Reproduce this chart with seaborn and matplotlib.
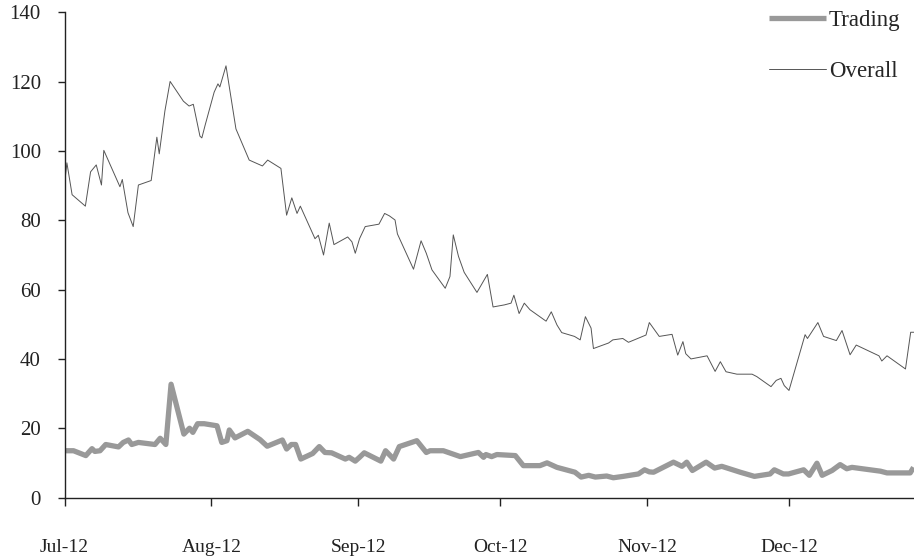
import pandas as pd
import seaborn as sns
import matplotlib.dates as mdates

from matplotlib import pyplot as plt

# days since 1 Jul 2012
overall_day = [0.0, 0.5, 1.6, 4.4, 5.5, 6.7, 7.8, 8.3, 11.7, 12.2, 13.4, 14.5, 15.6, 18.3,
               19.5, 20.0, 21.2, 22.3, 25.1, 26.3, 27.2, 28.6, 29.0, 29.7, 31.6, 32.4, 32.8,
               34.1, 36.2, 39.0, 41.8, 42.9, 45.7, 46.9, 48.0, 49.1, 49.8, 52.9, 53.6, 54.7,
               55.9, 56.9, 59.8, 60.7, 61.4, 62.3, 63.5, 66.4, 67.6, 68.6, 69.8, 70.3, 73.7,
               75.3, 76.4, 77.6, 80.4, 81.4, 82.1, 83.2, 84.4, 87.1, 89.3, 90.5, 92.9, 94.3,
               94.9, 96.0, 97.1, 98.3, 101.7, 102.8, 104.0, 105.0, 107.7, 108.9, 110.0,
               111.2, 111.7, 114.9, 115.8, 117.9, 119.1, 122.8, 123.5, 124.6, 125.6, 128.3,
               129.5, 130.6, 131.2, 132.3, 135.7, 137.4, 138.5, 139.7, 142.0, 145.2, 146.2,
               149.2, 150.3, 151.3, 152.0, 153.0, 156.4, 156.9, 159.1, 160.3, 163.0, 164.2,
               165.9, 167.2, 172.0, 172.6, 173.7, 177.6, 178.7, 179.5]
overall = [90.5, 96.6, 87.4, 84.1, 94.0, 96.0, 90.2, 100.2, 89.7, 91.8, 82.2, 78.2, 90.2, 91.5,
           104.0, 99.2, 111.6, 120.1, 114.4, 113.0, 113.5, 104.3, 103.8, 107.5, 117.0, 119.4,
           118.5, 124.6, 106.4, 97.4, 95.7, 97.4, 95.0, 81.5, 86.5, 82.0, 84.1, 74.7, 75.7,
           70.0, 79.2, 73.0, 75.2, 73.8, 70.5, 74.7, 78.2, 78.9, 82.0, 81.3, 80.1, 76.1, 65.9,
           74.1, 70.5, 65.7, 60.4, 63.8, 75.8, 69.6, 65.0, 59.2, 64.4, 55.0, 55.6, 56.1, 58.4,
           53.1, 56.1, 54.2, 50.9, 53.6, 49.8, 47.6, 46.5, 45.5, 52.2, 48.9, 43.0, 44.6, 45.5,
           45.9, 44.8, 46.9, 50.5, 48.4, 46.5, 47.1, 41.1, 45.0, 41.5, 40.0, 40.9, 36.4, 39.2,
           36.3, 35.6, 35.6, 34.9, 32.0, 33.8, 34.4, 32.3, 30.9, 47.0, 45.9, 50.5, 46.5, 45.3,
           48.2, 41.2, 44.0, 40.9, 39.4, 40.9, 37.1, 47.7, 47.7]

trading_day = [0.0, 1.9, 4.5, 5.8, 6.4, 7.5, 8.7, 11.4, 12.4, 13.5, 14.2, 15.6, 19.1, 20.2,
               21.4, 22.5, 25.2, 26.4, 27.1, 28.1, 29.5, 32.2, 33.2, 34.3, 34.8, 36.0, 38.7,
               41.3, 42.8, 46.0, 46.9, 47.9, 48.8, 49.9, 52.4, 53.8, 55.0, 56.4, 59.3, 60.1,
               61.4, 62.3, 63.3, 66.8, 67.8, 69.5, 70.7, 74.4, 76.4, 77.2, 80.0, 83.6, 87.4,
               88.5, 89.0, 90.2, 91.3, 95.2, 96.9, 100.4, 101.9, 104.0, 107.8, 109.1, 110.7,
               112.1, 114.5, 115.9, 118.0, 121.2, 122.5, 123.5, 124.4, 128.6, 130.4, 131.4,
               132.6, 135.5, 137.3, 138.8, 142.7, 145.7, 149.0, 149.9, 151.8, 152.9, 156.1,
               157.3, 158.9, 160.0, 162.1, 163.8, 165.2, 166.3, 172.3, 173.7, 178.6, 179.3]
trading = [13.5, 13.5, 12.1, 14.1, 13.3, 13.5, 15.3, 14.6, 15.9, 16.6, 15.3, 15.9, 15.3, 17.1,
           15.3, 32.7, 18.3, 20.0, 18.8, 21.3, 21.3, 20.7, 15.9, 16.4, 19.5, 17.2, 19.1,
           16.7, 14.8, 16.6, 14.0, 15.3, 15.3, 11.1, 12.7, 14.7, 13.0, 12.9, 11.1, 11.6,
           10.5, 11.6, 12.9, 10.5, 13.5, 11.1, 14.7, 16.4, 13.0, 13.5, 13.5, 11.8, 13.0,
           11.6, 12.4, 11.8, 12.4, 12.1, 9.2, 9.2, 10.0, 8.7, 7.3, 5.9, 6.4, 5.9, 6.2, 5.7,
           6.1, 6.8, 8.0, 7.4, 7.3, 10.2, 9.0, 10.2, 7.8, 10.2, 8.5, 9.0, 7.3, 6.1, 6.8, 8.0,
           6.8, 6.8, 8.0, 6.4, 9.9, 6.4, 7.8, 9.5, 8.3, 8.7, 7.6, 7.1, 7.1, 8.7]

start = pd.Timestamp('2012-07-01')
df_overall = pd.DataFrame({'date': start + pd.to_timedelta(overall_day, unit='D'), 'value': overall})
df_trading = pd.DataFrame({'date': start + pd.to_timedelta(trading_day, unit='D'), 'value': trading})

sns.set_style('ticks')
plt.rcParams['font.family'] = ['Liberation Serif', 'DejaVu Serif']

fig = plt.figure(figsize=(9.14, 5.6), dpi=100)
ax = fig.add_axes([0.0706, 0.1116, 0.9294, 0.8661])

sns.lineplot(data=df_trading, x='date', y='value', ax=ax, color='#999999', linewidth=3.8,
             label='Trading', solid_capstyle='butt')
sns.lineplot(data=df_overall, x='date', y='value', ax=ax, color='#555555', linewidth=0.7,
             label='Overall')

ax.set_ylim(0, 140)
ax.set_yticks(range(0, 141, 20))
ax.set_xlim(start, start + pd.Timedelta(days=179.4))
ax.xaxis.set_major_locator(mdates.MonthLocator())
ax.xaxis.set_major_formatter(mdates.DateFormatter('%b-%y'))
ax.set_xlabel('')
ax.set_ylabel('')

sns.despine(ax=ax)
for side in ['left', 'bottom']:
    ax.spines[side].set_color('#222222')
    ax.spines[side].set_linewidth(1.0)
ax.tick_params(axis='y', length=5, width=1, pad=12, labelsize=15, colors='#222222')
ax.tick_params(axis='x', length=6, width=1, pad=24, labelsize=14, colors='#222222')

ax.legend(loc='upper right', bbox_to_anchor=(0.99, 0.99), bbox_transform=fig.transFigure,
          frameon=False, fontsize=16.5, handlelength=2.5, handletextpad=0.1,
          labelspacing=1.3, borderaxespad=0, borderpad=0.2)

fig.savefig('out.png', dpi=100)
